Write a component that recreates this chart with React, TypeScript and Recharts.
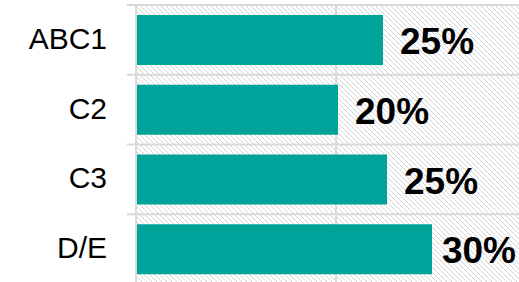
import React from "react";
import { BarChart, Bar, XAxis, YAxis, CartesianGrid, LabelList } from "recharts";

const categories = ["ABC1", "C2", "C3", "D/E"];
const shares = [24.7, 20.2, 25.1, 29.6];
const shareLabels = ["25%", "20%", "25%", "30%"];
const xTicks = [0, 20, 40];

const data = categories.map((c, i) => ({ name: c, value: shares[i], label: shareLabels[i] }));

const W = 536;
const H = 284;
const VIEW_W = 519;
const MARGIN = { top: 5, right: 0, bottom: 0, left: 0 };
const AXIS_W = 136;
const TICK_LEN = 9;
const GRID = "#d9d9d9";
const FONT = "'Liberation Sans', Arial, sans-serif";
const BAND = (H - MARGIN.top - MARGIN.bottom) / categories.length;
const LABEL_FS = 37;

const CategoryTick = (props: any) => {
  const { y, payload, index } = props;
  const ax = MARGIN.left + AXIS_W;
  return (
    <g>
      <line x1={ax - TICK_LEN} x2={ax} y1={y - BAND / 2} y2={y - BAND / 2} stroke={GRID} strokeWidth={2} />
      {index === categories.length - 1 && (
        <line x1={ax - TICK_LEN} x2={ax} y1={y + BAND / 2} y2={y + BAND / 2} stroke={GRID} strokeWidth={2} />
      )}
      <text x={107} y={y + 9} textAnchor="end" fontFamily={FONT} fontSize={30} fill="#000">
        {payload.value}
      </text>
    </g>
  );
};

const ValueLabel = (props: any) => {
  const { x, y, width, height, value } = props;
  const str = String(value);
  const textW = LABEL_FS * (0.556 * (str.length - 1) + 0.889);
  const tx = Math.min(x + width + 17, VIEW_W - 3 - textW);
  return (
    <text x={tx} y={y + height / 2 + 14} fontFamily={FONT} fontWeight="bold" fontSize={LABEL_FS} fill="#000">
      {str}
    </text>
  );
};

export default function App() {
  return (
    <div style={{ position: "absolute", left: 0, top: 0, width: VIEW_W, height: 282, overflow: "hidden", background: "#fff" }}>
      <BarChart width={W} height={H} data={data} layout="vertical" margin={MARGIN} barSize={50}>
        <defs>
          <pattern id="hatch" patternUnits="userSpaceOnUse" width={5} height={5}>
            <rect width={5} height={5} fill="#ffffff" />
            <path d="M0,0 L5,5 M-1,4 L1,6 M4,-1 L6,1" stroke="#d3d3d3" strokeWidth={1} />
          </pattern>
        </defs>
        <CartesianGrid
          fill="url(#hatch)"
          fillOpacity={1}
          stroke={GRID}
          strokeWidth={2}
          horizontalCoordinatesGenerator={({ offset }: any) =>
            categories.map((_, i) => offset.top + (i * offset.height) / categories.length).concat([offset.top + offset.height])
          }
        />
        <XAxis type="number" domain={[0, 40]} ticks={xTicks} hide />
        <YAxis
          type="category"
          dataKey="name"
          width={AXIS_W}
          axisLine={{ stroke: GRID, strokeWidth: 2 }}
          tickLine={false}
          tick={<CategoryTick />}
          interval={0}
        />
        <Bar dataKey="value" fill="#00A39A" isAnimationActive={false}>
          <LabelList dataKey="label" content={<ValueLabel />} />
        </Bar>
      </BarChart>
    </div>
  );
}
